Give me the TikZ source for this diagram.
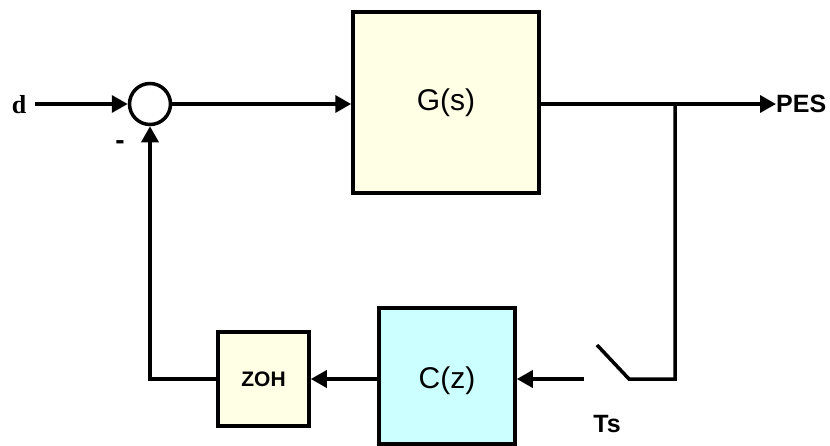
\documentclass[tikz,border=0pt]{standalone}
\usepackage{fontspec}
\setmainfont{Liberation Sans}
\newfontfamily\dfont{Liberation Serif}
\usetikzlibrary{arrows.meta}
\definecolor{plantfill}{RGB}{255,255,230}
\definecolor{ctrlfill}{RGB}{204,255,255}
\begin{document}
\begin{tikzpicture}[
    x=1pt, y=-1pt,
    block/.style={rectangle, draw, line width=3.5pt, inner sep=0pt},
    sumnode/.style={circle, draw, line width=3.5pt, minimum size=41pt, inner sep=0pt},
    wire/.style={line width=3.5pt},
    arr/.style={wire, -{Triangle[length=16pt, width=17pt]}},
    lbl/.style={font=\fontsize{25}{25}\selectfont\bfseries, inner sep=0pt}
]
\useasboundingbox (0,0) rectangle (830,445);

\node[font=\dfont\fontsize{26}{26}\selectfont\bfseries, inner sep=0pt] (d) at (19,105) {d};
\node[sumnode] (sum) at (150,104) {};
\node[block, fill=plantfill, minimum width=186pt, minimum height=181pt,
      font=\fontsize{30}{30}\selectfont] (G) at (446,102.5) {G(s)};
\node[lbl, anchor=west] (PES) at (776,104) {PES};
\node[block, fill=ctrlfill, minimum width=136pt, minimum height=136pt] (C) at (447,376) {};
\node[font=\fontsize{30}{30}\selectfont, inner sep=0pt] (Clbl) at (447,381) {C(z)};
\node[block, fill=plantfill, minimum width=91pt, minimum height=94pt,
      font=\fontsize{21}{21}\selectfont\bfseries] (ZOH) at (263.5,379) {ZOH};
\node[font=\fontsize{28}{28}\selectfont\bfseries, inner sep=0pt] (minus) at (120,145) {-};
\node[lbl] (Ts) at (607,424) {Ts};

\coordinate (br) at (675,104);
\coordinate (swR) at (629,379);
\coordinate (swT) at (597,345);
\coordinate (swL) at (584,379);

\draw[arr] (35,104) -- (sum.west);
\draw[arr] (sum.east) -- (G.west |- sum.east);
\draw[arr] (G.east |- br) -- (PES.west);
\draw[wire, line join=miter] (br) |- (swR) -- (swT);
\draw[arr] (swL) -- (C.east |- swL);
\draw[arr] (C.west |- ZOH.east) -- (ZOH.east);
\draw[arr, line join=miter] (ZOH.west) -| (sum.south);

\end{tikzpicture}
\end{document}
